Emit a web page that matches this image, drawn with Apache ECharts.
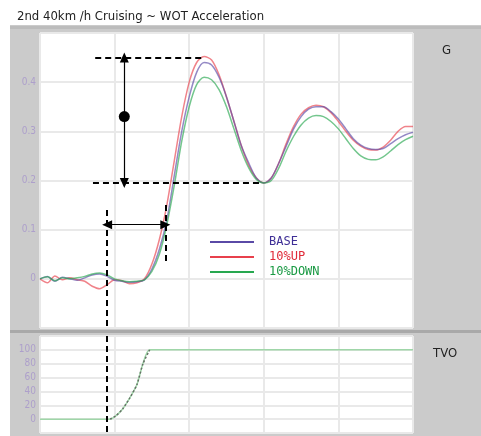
<!DOCTYPE html>
<html><head><meta charset="utf-8">
<script src="https://cdn.jsdelivr.net/npm/echarts@6/dist/echarts.min.js"></script>
<style>html,body{margin:0;padding:0;background:#fff}#c{width:481px;height:436px}</style>
</head><body><div id="c"></div>
<script>
// time axis (arbitrary units, 5 grid divisions)
var timeArr = [0,0.1,0.2,0.3,0.4,0.5,0.6,0.7,0.8,0.9,1.0,1.1,1.2,1.3,1.4,1.5,1.6,1.7,1.8,1.9,2.0,2.1,2.2,2.3,2.4,2.5,2.6,2.7,2.8,2.9,3.0,3.1,3.2,3.3,3.4,3.5,3.6,3.7,3.8,3.9,4.0,4.1,4.2,4.3,4.4,4.5,4.6,4.7,4.8,4.9,5.0];
var baseG = [0,0.005,-0.005,0.003,0,-0.003,0.002,0.008,0.01,0.005,-0.003,-0.005,-0.007,-0.006,-0.002,0.02,0.06,0.12,0.21,0.30,0.37,0.42,0.44,0.435,0.41,0.37,0.32,0.27,0.235,0.205,0.195,0.205,0.235,0.27,0.305,0.33,0.345,0.35,0.35,0.34,0.325,0.305,0.285,0.272,0.265,0.263,0.265,0.275,0.285,0.293,0.298];
var upG = [0,-0.008,0.006,-0.002,0.002,-0.002,-0.005,-0.015,-0.02,-0.012,-0.002,-0.004,-0.01,-0.008,0,0.03,0.08,0.15,0.24,0.33,0.40,0.44,0.452,0.445,0.415,0.37,0.32,0.27,0.23,0.205,0.195,0.205,0.235,0.275,0.31,0.335,0.348,0.353,0.35,0.338,0.32,0.30,0.282,0.27,0.263,0.262,0.268,0.282,0.30,0.31,0.31];
var downG = [0,0.004,-0.004,0.002,0,0.002,0.005,0.01,0.012,0.008,0,-0.004,-0.006,-0.005,-0.002,0.015,0.05,0.11,0.19,0.28,0.35,0.395,0.41,0.405,0.385,0.35,0.305,0.26,0.225,0.202,0.195,0.20,0.225,0.26,0.29,0.313,0.327,0.332,0.33,0.32,0.305,0.285,0.265,0.25,0.243,0.242,0.248,0.26,0.273,0.283,0.29];
var tvoTime = [0,0.94,1.02,1.11,1.2,1.3,1.38,1.47,5.0];
var tvoVal = [0,0,5,15,30,50,80,100,100];
var seriesNames = ['BASE','10%UP','10%DOWN'];
var gTicks = [0,0.1,0.2,0.3,0.4];
var tvoTicks = [0,20,40,60,80,100];

function pairs(xs, ys){ return xs.map(function(x,i){return [x, ys[i]];}); }

var lineCols = {'BASE':'#5a4aa6','10%UP':'#e8404c','10%DOWN':'#28a850'};
var textCols = {'BASE':'#3f2f96','10%UP':'#e02a38','10%DOWN':'#1a9a44'};
var dash = {type:[6,4], color:'#000', width:2};
var solidA = {type:'solid', color:'#000', width:1.2};
var narrow = "'Liberation Sans Narrow','DejaVu Sans Condensed',sans-serif";
var mono = "'DejaVu Sans Mono',monospace";

var chart = echarts.init(document.getElementById('c'), null, {renderer:'canvas'});
var grid0 = {left:40, top:33, width:373, height:295, show:false, containLabel:false};
var grid1 = {left:40, top:336, width:373, height:97, show:false, containLabel:false};
var splitStyle = {show:true, lineStyle:{color:'#e9e9e9', width:2}};

function gSeries(name, ys){
  return {name:name, type:'line', xAxisIndex:0, yAxisIndex:0, data:pairs(timeArr, ys),
    showSymbol:false, smooth:0.3, color:lineCols[name],
    lineStyle:{width:1.5, color:lineCols[name], opacity:0.65}, z:3};
}

var option = {
  animation:false,
  backgroundColor:'#fff',
  title:{text:'2nd 40km /h Cruising ~ WOT Acceleration', left:12, top:5,
    textStyle:{fontFamily:narrow, fontSize:13, fontWeight:'normal', color:'#222'}},
  graphic:{elements:[
    {type:'rect', z:-10, shape:{x:10,y:25,width:471,height:411}, style:{fill:'#cbcbcb'}},
    {type:'rect', z:-9, shape:{x:10,y:26,width:471,height:3}, style:{fill:'#bcbcbc'}},
    {type:'rect', z:-9, shape:{x:40,y:33,width:373,height:295}, style:{fill:'#ffffff'}},
    {type:'rect', z:-9, shape:{x:10,y:330,width:471,height:3}, style:{fill:'#a9a9a9'}},
    {type:'rect', z:-9, shape:{x:40,y:336,width:373,height:97}, style:{fill:'#ffffff'}},
    {type:'text', z:10, left:442, top:44, style:{text:'G', font:'13px '+narrow, fill:'#222'}},
    {type:'text', z:10, left:433, top:347, style:{text:'TVO', font:'13px '+narrow, fill:'#222'}}
  ]},
  legend:{orient:'vertical', left:205, top:230, itemWidth:44, itemHeight:2, itemGap:1, icon:'rect',
    data:seriesNames.map(function(n){return {name:n, textStyle:{color:textCols[n]}};}),
    textStyle:{fontFamily:mono, fontSize:12, lineHeight:14, padding:[0,0,0,10]},
    selectedMode:false},
  grid:[grid0, grid1],
  xAxis:[
    {type:'value', gridIndex:0, min:0, max:5, interval:1, axisLine:{show:false}, axisTick:{show:false}, axisLabel:{show:false}, splitLine:splitStyle},
    {type:'value', gridIndex:1, min:0, max:5, interval:1, axisLine:{show:false}, axisTick:{show:false}, axisLabel:{show:false}, splitLine:splitStyle}
  ],
  yAxis:[
    {type:'value', gridIndex:0, min:-0.1, max:0.5, interval:0.1, axisLine:{show:false}, axisTick:{show:false},
      axisLabel:{showMinLabel:false, showMaxLabel:false, margin:4, color:'#ad9fcb', fontSize:10, fontFamily:narrow,
        formatter:function(v){ var r=Math.round(v*10)/10; return r===0?'0':r.toFixed(1);}},
      splitLine:splitStyle},
    {type:'value', gridIndex:1, min:-20, max:120, interval:20, axisLine:{show:false}, axisTick:{show:false},
      axisLabel:{showMinLabel:false, showMaxLabel:false, margin:4, color:'#ad9fcb', fontSize:10, fontFamily:narrow},
      splitLine:splitStyle}
  ],
  series:[
    gSeries('10%UP', upG),
    gSeries('BASE', baseG),
    gSeries('10%DOWN', downG),
    {name:'annot', type:'line', xAxisIndex:0, yAxisIndex:0, data:[], silent:true, z:5,
      markLine:{silent:true, symbol:'none', label:{show:false}, animation:false, precision:3,
        data:[
          [{coord:[0.74,0.45], lineStyle:dash},{coord:[2.21,0.45]}],
          [{coord:[0.71,0.195], lineStyle:dash},{coord:[2.98,0.195]}],
          [{coord:[0.90,0.14], lineStyle:dash},{coord:[0.90,-0.1]}],
          [{coord:[1.68,0.15], lineStyle:dash},{coord:[1.68,0.03]}],
          [{coord:[1.13,0.45], lineStyle:solidA, symbol:'triangle', symbolSize:[9,10]},{coord:[1.13,0.195], symbol:'triangle', symbolSize:[9,10]}],
          [{coord:[0.90,0.11], lineStyle:solidA, symbol:'triangle', symbolSize:[9,10]},{coord:[1.68,0.11], symbol:'triangle', symbolSize:[9,10]}]
        ]},
      markPoint:{silent:true, symbol:'circle', symbolSize:11, label:{show:false}, itemStyle:{color:'#000'},
        data:[{coord:[1.13,0.33]}]}
    },
    {name:'TVO', type:'line', xAxisIndex:1, yAxisIndex:1, data:pairs(tvoTime, tvoVal), showSymbol:false,
      smooth:0.2, lineStyle:{width:1.5, color:'#9fd6a8'}, color:'#9fd6a8', z:3,
      markLine:{silent:true, symbol:'none', label:{show:false}, animation:false,
        data:[[{coord:[0.90,120], lineStyle:dash},{coord:[0.90,-20]}]]}
    },
    {name:'TVOramp', type:'line', xAxisIndex:1, yAxisIndex:1, data:pairs(tvoTime.slice(1,8), tvoVal.slice(1,8)), showSymbol:false,
      smooth:0.2, lineStyle:{width:1.5, color:'#667066', type:[2,2]}, z:4}
  ]
};
chart.setOption(option);
</script>
</body></html>
